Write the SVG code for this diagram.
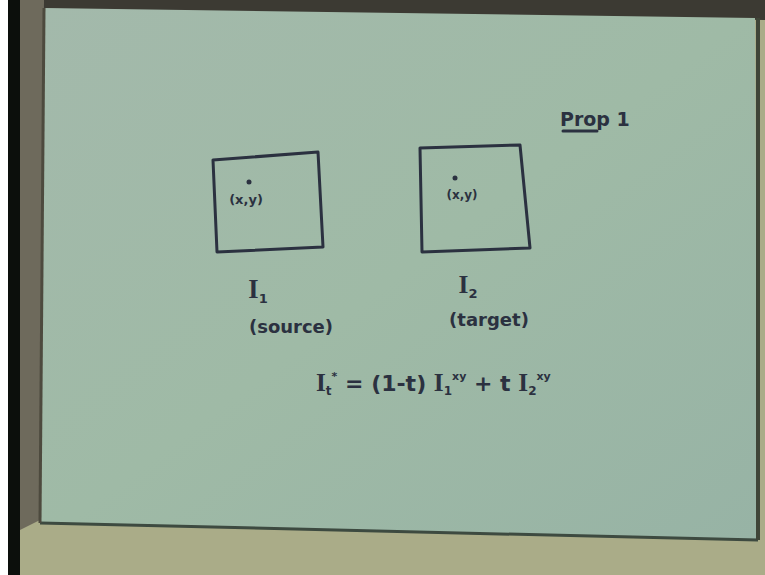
<svg xmlns="http://www.w3.org/2000/svg" width="765" height="575" viewBox="0 0 765 575">
<style>
.ink{fill:none;stroke:#2b3140;stroke-width:3;stroke-linecap:round;stroke-linejoin:round}
.t{font-family:"DejaVu Sans","Liberation Sans",sans-serif;fill:#2b3140;font-weight:bold}
.s{font-family:"Liberation Serif",serif;font-size:1.15em}
</style>
<defs>
<linearGradient id="paper" x1="0" y1="0" x2="1" y2="1">
<stop offset="0" stop-color="#a3b9ab"/>
<stop offset="0.5" stop-color="#9fbaa6"/>
<stop offset="1" stop-color="#97b3a5"/>
</linearGradient>
</defs>
<rect x="0" y="0" width="765" height="575" fill="#aaac88"/>
<polygon points="0,0 765,0 765,20 0,8" fill="#3c3a33"/>
<polygon points="20,0 44,0 40,520 20,530" fill="#6e6a5c"/>
<rect x="0" y="0" width="8" height="575" fill="#ffffff"/>
<rect x="8" y="0" width="12" height="575" fill="#0c0f0c"/>
<polygon points="44,8 755,18 758,540 40,523" fill="url(#paper)"/>
<polyline points="40,523 758,540" fill="none" stroke="#3d4a40" stroke-width="3"/>
<line x1="758" y1="18" x2="758" y2="540" stroke="#3f4538" stroke-width="4"/>
<line x1="44" y1="8" x2="40" y2="523" stroke="#4d4a3e" stroke-width="3"/>

<g id="box1">
<polygon class="ink" points="213,160 318,152 323,247 217,252"/>
<circle cx="249" cy="182" r="2.5" fill="#2b3140"/>
<text class="t" x="246" y="204" font-size="13" text-anchor="middle">(x,y)</text>
</g>
<g id="box2">
<polygon class="ink" points="420,148 520,145 530,248 422,252"/>
<circle cx="455" cy="178" r="2.5" fill="#2b3140"/>
<text class="t" x="462" y="199" font-size="12" text-anchor="middle">(x,y)</text>
</g>
<g id="label1">
<text class="t" x="258" y="298" font-size="23" text-anchor="middle"><tspan class="s">I</tspan><tspan font-size="13" dy="5">1</tspan></text>
<text class="t" x="291" y="333" font-size="18" text-anchor="middle">(source)</text>
</g>
<g id="label2">
<text class="t" x="468" y="293" font-size="22" text-anchor="middle"><tspan class="s">I</tspan><tspan font-size="13" dy="5">2</tspan></text>
<text class="t" x="489" y="326" font-size="18" text-anchor="middle">(target)</text>
</g>
<g id="equation">
<text class="t" x="316" y="391" font-size="22"><tspan class="s">I</tspan><tspan font-size="12" dy="4">t</tspan><tspan font-size="11" dy="-15">*</tspan><tspan dy="11"> = (1-t) </tspan><tspan class="s">I</tspan><tspan font-size="12" dy="4">1</tspan><tspan font-size="11" dy="-15">xy</tspan><tspan dy="11"> + t </tspan><tspan class="s">I</tspan><tspan font-size="12" dy="4">2</tspan><tspan font-size="11" dy="-15">xy</tspan></text>
</g>
<g id="prop">
<text class="t" x="560" y="126" font-size="19">Prop 1</text>
<line class="ink" x1="563" y1="131" x2="597" y2="131" stroke-width="2.5"/>
</g>
</svg>
